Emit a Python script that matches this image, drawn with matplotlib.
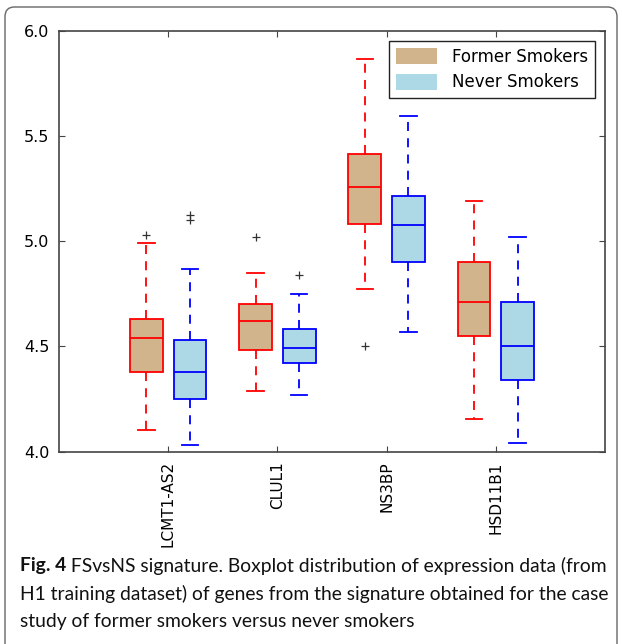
import numpy as np, matplotlib.pyplot as plt
from matplotlib.patches import FancyBboxPatch, Patch

genes = ['LCMT1-AS2', 'CLUL1', 'NS3BP', 'HSD11B1']

# former smokers
fs_whislo = [4.10, 4.29, 4.775, 4.155]
fs_q1 = [4.38, 4.485, 5.08, 4.55]
fs_med = [4.54, 4.62, 5.26, 4.71]
fs_q3 = [4.63, 4.70, 5.415, 4.90]
fs_whishi = [4.99, 4.85, 5.865, 5.19]
fs_fliers = [[5.03], [5.02], [4.50], []]

# never smokers
ns_whislo = [4.03, 4.27, 4.57, 4.04]
ns_q1 = [4.25, 4.42, 4.90, 4.34]
ns_med = [4.38, 4.49, 5.075, 4.50]
ns_q3 = [4.53, 4.585, 5.215, 4.71]
ns_whishi = [4.87, 4.75, 5.595, 5.02]
ns_fliers = [[5.10, 5.125], [4.84], [], []]

caption_bold = 'Fig. 4'
caption_lines = [' FSvsNS signature. Boxplot distribution of expression data (from',
                 'H1 training dataset) of genes from the signature obtained for the case',
                 'study of former smokers versus never smokers']


def stats(lo, q1, med, q3, hi, fl):
    return [dict(whislo=a, q1=b, med=c, q3=d, whishi=e, fliers=f)
            for a, b, c, d, e, f in zip(lo, q1, med, q3, hi, fl)]


fig = plt.figure(figsize=(6.22, 6.44), dpi=100)
ax = fig.add_axes([59/622, 192.5/644, 546/622, 420.5/644])

pos = np.arange(1, len(genes) + 1)
groups = [
    (stats(fs_whislo, fs_q1, fs_med, fs_q3, fs_whishi, fs_fliers), -0.2, 'tan', 'red'),
    (stats(ns_whislo, ns_q1, ns_med, ns_q3, ns_whishi, ns_fliers), 0.2, 'lightblue', 'blue'),
]
for st, off, face, edge in groups:
    ax.bxp(st, positions=pos + off, widths=0.3, patch_artist=True,
           boxprops=dict(facecolor=face, edgecolor=edge, linewidth=1.3),
           medianprops=dict(color=edge, linewidth=1.3),
           whiskerprops=dict(color=edge, linewidth=1.3, linestyle=(0, (5, 4))),
           capprops=dict(color=edge, linewidth=1.3),
           flierprops=dict(marker='+', markeredgecolor='#333333', markersize=6,
                           markeredgewidth=0.9))

ax.set_xlim(0, 5)
ax.set_ylim(4.0, 6.0)
ax.set_xticks(pos)
ax.set_xticklabels(genes, rotation=90, fontsize=11)
ax.set_yticks([4.0, 4.5, 5.0, 5.5, 6.0])
ax.set_yticklabels(['4.0', '4.5', '5.0', '5.5', '6.0'], fontsize=11.5)
ax.tick_params(direction='in', top=True, right=True, length=4, color='#444444', pad=7)
for s in ax.spines.values():
    s.set_color('#444444')
    s.set_linewidth(1.2)

handles = [Patch(facecolor='tan', edgecolor='none', label='Former Smokers'),
           Patch(facecolor='lightblue', edgecolor='none', label='Never Smokers')]
leg = ax.legend(handles=handles, loc='upper right', fontsize=12, fancybox=False,
                framealpha=1, edgecolor='#222222', borderaxespad=0.6,
                handlelength=2.5, handleheight=1.1, handletextpad=0.9,
                labelspacing=0.45)
leg.get_frame().set_linewidth(1.0)

border = FancyBboxPatch((5/622, -0.05), 612/622, (637/644) + 0.05,
                        boxstyle='round,pad=0,rounding_size=0.015',
                        transform=fig.transFigure, facecolor='none',
                        edgecolor='#666666', linewidth=1.0)
fig.patches.append(border)

# caption: shrink font so the longest line fits the same width as the reference
W = fig.bbox.width
size = 14.5
for _ in range(2):
    cap_font = dict(family='Lato', fontsize=size, color='#111111')
    t = fig.text(20/622, 1 - 566/644, caption_bold, fontweight='bold', va='center', **cap_font)
    t1 = fig.text(0, 1 - 566/644, caption_lines[0], va='center', **cap_font)
    t2 = fig.text(20/622, 1 - 594/644, caption_lines[1], va='center', **cap_font)
    fig.canvas.draw()
    w1 = t.get_window_extent().width + t1.get_window_extent().width
    w2 = t2.get_window_extent().width
    widest = max(w1 / 589, w2 / 588)
    t.remove(); t1.remove(); t2.remove()
    size = size / widest

cap_font = dict(family='Lato', fontsize=size, color='#111111')
t = fig.text(20/622, 1 - 566/644, caption_bold, fontweight='bold', va='center', **cap_font)
fig.canvas.draw()
bb = t.get_window_extent()
fig.text(bb.x1 / W, 1 - 566/644, caption_lines[0], va='center', **cap_font)
fig.text(20/622, 1 - 594/644, caption_lines[1], va='center', **cap_font)
fig.text(20/622, 1 - 622/644, caption_lines[2], va='center', **cap_font)

plt.savefig('out.png', dpi=100)
